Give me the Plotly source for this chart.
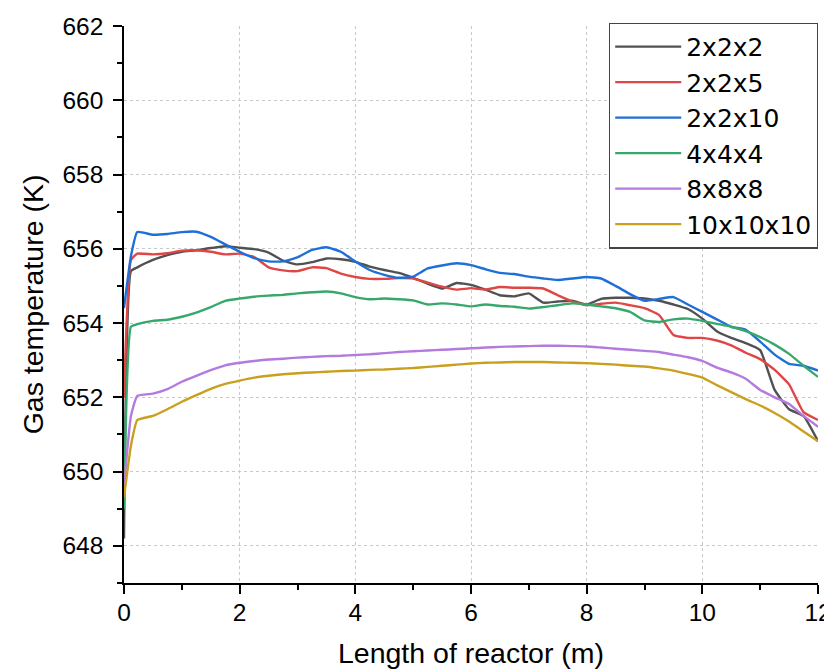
import plotly.graph_objects as go

length_m = [0, 0.12, 0.23, 0.5, 0.75, 1.0, 1.25, 1.5, 1.75, 2.0, 2.25, 2.5, 2.75, 3.0, 3.25, 3.5, 3.75,
            4.0, 4.25, 4.5, 4.75, 5.0, 5.25, 5.5, 5.75, 6.0, 6.25, 6.5, 6.75, 7.0, 7.25, 7.5, 7.75,
            8.0, 8.25, 8.5, 8.75, 9.0, 9.25, 9.5, 9.75, 10.0, 10.25, 10.5, 10.75, 11.0, 11.25, 11.5,
            11.75, 12.0]

t_2x2x2 = [648.2, 655.4, 655.5, 655.7, 655.83, 655.92, 655.96, 656.02, 656.07, 656.03, 655.99, 655.9,
           655.68, 655.58, 655.64, 655.74, 655.72, 655.65, 655.52, 655.43, 655.35, 655.22, 655.06,
           654.93, 655.08, 655.03, 654.9, 654.75, 654.72, 654.8, 654.55, 654.58, 654.6, 654.5, 654.65,
           654.68, 654.68, 654.66, 654.6, 654.5, 654.38, 654.12, 653.78, 653.6, 653.46, 653.27, 652.2,
           651.68, 651.5, 650.82]

t_2x2x5 = [652.0, 655.7, 655.87, 655.85, 655.88, 655.95, 655.96, 655.92, 655.85, 655.87, 655.78, 655.5,
           655.42, 655.4, 655.5, 655.48, 655.33, 655.24, 655.19, 655.19, 655.21, 655.2, 655.09, 654.98,
           654.9, 654.94, 654.9, 654.97, 654.95, 654.95, 654.93, 654.75, 654.58, 654.48, 654.52, 654.55,
           654.48, 654.4, 654.22, 653.68, 653.6, 653.6, 653.53, 653.4, 653.2, 653.03, 652.74, 652.35,
           651.6, 651.39]

t_2x2x10 = [654.4, 655.8, 656.45, 656.38, 656.4, 656.45, 656.46, 656.32, 656.12, 655.92, 655.75, 655.66,
            655.66, 655.77, 655.97, 656.04, 655.92, 655.66, 655.43, 655.3, 655.22, 655.25, 655.47, 655.55,
            655.61, 655.56, 655.45, 655.35, 655.32, 655.25, 655.2, 655.16, 655.2, 655.24, 655.2, 655.0,
            654.78, 654.6, 654.65, 654.7, 654.5, 654.3, 654.1, 653.9, 653.82, 653.5, 653.15, 652.9,
            652.85, 652.72]

t_4x4x4 = [649.0, 653.9, 653.97, 654.06, 654.09, 654.17, 654.28, 654.43, 654.6, 654.66, 654.71, 654.74,
           654.76, 654.8, 654.83, 654.85, 654.8, 654.7, 654.64, 654.66, 654.64, 654.61, 654.5, 654.53,
           654.5, 654.45, 654.5, 654.46, 654.44, 654.39, 654.43, 654.48, 654.53, 654.5, 654.45, 654.4,
           654.3, 654.07, 654.03, 654.1, 654.12, 654.06, 653.98, 653.9, 653.78, 653.62, 653.42, 653.17,
           652.85, 652.55]

t_8x8x8 = [649.6, 651.5, 652.04, 652.1, 652.22, 652.42, 652.58, 652.73, 652.86, 652.93, 652.98, 653.02,
           653.04, 653.07, 653.09, 653.11, 653.12, 653.14, 653.16, 653.19, 653.22, 653.24, 653.26, 653.28,
           653.3, 653.32, 653.34, 653.36, 653.37, 653.38, 653.39, 653.39, 653.38, 653.37, 653.34, 653.31,
           653.28, 653.25, 653.22, 653.15, 653.08, 652.98, 652.8, 652.67, 652.5, 652.2, 652.0, 651.82,
           651.5, 651.21]

t_10x10x10 = [649.3, 650.7, 651.39, 651.5, 651.68, 651.88, 652.06, 652.23, 652.36, 652.45, 652.53, 652.58,
              652.62, 652.65, 652.67, 652.69, 652.71, 652.72, 652.74, 652.75, 652.77, 652.79, 652.82,
              652.85, 652.88, 652.91, 652.93, 652.94, 652.95, 652.95, 652.95, 652.94, 652.93, 652.92,
              652.9, 652.88, 652.85, 652.83, 652.78, 652.72, 652.63, 652.53, 652.33, 652.14, 651.95,
              651.78, 651.58, 651.35, 651.08, 650.82]

series_names = ["2x2x2", "2x2x5", "2x2x10", "4x4x4", "8x8x8", "10x10x10"]
series_values = [t_2x2x2, t_2x2x5, t_2x2x10, t_4x4x4, t_8x8x8, t_10x10x10]
series_colors = ["#515151", "#E04646", "#1F6FD8", "#37A86B", "#B47ADE", "#C9A01E"]

FONT = "Liberation Sans, Arial, sans-serif"
LEGEND_FONT = "DejaVu Sans, Liberation Sans, sans-serif"

fig = go.Figure()
for name, vals, col in zip(series_names, series_values, series_colors):
    fig.add_trace(go.Scatter(x=length_m, y=vals, name=name, mode="lines",
                             line=dict(color=col, width=2.4, shape="spline", smoothing=0.4)))

axis_common = dict(
    showline=True, linecolor="black", linewidth=1.6,
    ticks="outside", ticklen=9, tickwidth=1.6, tickcolor="black",
    showgrid=True, gridcolor="#c9c9c9", gridwidth=1, griddash="dot",
    zeroline=False, mirror=False, automargin=False,
    tickfont=dict(family=FONT, size=24.5, color="black"),
)

fig.update_xaxes(
    range=[0, 12], tick0=0, dtick=2, ticklabelstandoff=-2,
    minor=dict(ticks="outside", ticklen=5, tickwidth=1.6, tickcolor="black", dtick=1, tick0=0, showgrid=False),
    title=dict(text="Length of reactor (m)", font=dict(family=FONT, size=28.5, color="black"), standoff=18),
    **axis_common,
)
fig.update_yaxes(
    range=[647, 662], tick0=648, dtick=2, ticklabelstandoff=5,
    minor=dict(ticks="outside", ticklen=5, tickwidth=1.6, tickcolor="black", dtick=1, tick0=648, showgrid=False),
    title=dict(text="Gas temperature (K)", font=dict(family=FONT, size=28.5, color="black"), standoff=10),
    **axis_common,
)

fig.update_layout(
    width=830, height=663,
    margin=dict(l=116, r=20, t=18, b=88),
    plot_bgcolor="white", paper_bgcolor="white",
    font=dict(family=FONT, color="black"),
    legend=dict(
        x=1.0, y=1.006, xanchor="right", yanchor="top",
        bgcolor="white", bordercolor="#444444", borderwidth=1.2,
        font=dict(family=LEGEND_FONT, size=25, color="black"),
        itemwidth=66, tracegroupgap=0,
    ),
    showlegend=True,
)

fig.write_html("out.html")
